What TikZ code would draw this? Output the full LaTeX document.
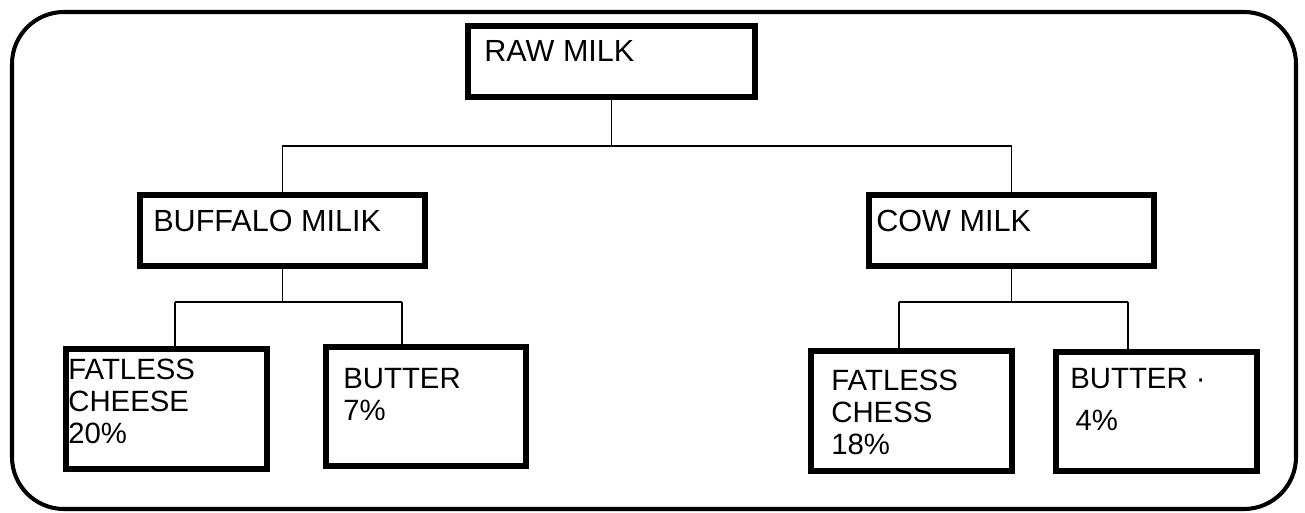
\documentclass[tikz,border=0pt]{standalone}
\usepackage{fontspec}
\setmainfont{Liberation Sans}
\tikzset{
  box/.style={draw, line width=3.4pt, rectangle, inner sep=0pt},
  lbl/.style={anchor=base west, inner sep=0pt, align=left, font=\fontsize{16.7}{18.2}\selectfont},
  lblbig/.style={lbl, font=\fontsize{17.4}{20}\selectfont},
  conn/.style={line width=0.85pt},
  outerframe/.style={line width=2.3pt, rounded corners=1.04cm}
}
\begin{document}
\begin{tikzpicture}[x=0.02cm,y=-0.02cm]
\useasboundingbox (0,0) rectangle (1305,513);
\draw[outerframe] (12,12) rectangle (1296,509);

% boxes
\node[box, minimum width=287*0.02cm, minimum height=71*0.02cm] (raw) at (611.5,61.5) {};
\node[box, minimum width=285*0.02cm, minimum height=71*0.02cm] (buf) at (282.5,230.5) {};
\node[box, minimum width=285*0.02cm, minimum height=71*0.02cm] (cow) at (1011.5,230.5) {};
\node[box, minimum width=201*0.02cm, minimum height=120*0.02cm] (fc) at (166.5,409) {};
\node[box, minimum width=200*0.02cm, minimum height=119*0.02cm] (b7) at (426,406.5) {};
\node[box, minimum width=201*0.02cm, minimum height=120*0.02cm] (fch) at (911.5,411) {};
\node[box, minimum width=201*0.02cm, minimum height=119*0.02cm] (b4) at (1156.5,411.5) {};

% labels (anchor at baseline of last line)
\node[lblbig] (rawt) at (484,62) {RAW MILK};
\node[lblbig] (buft) at (153,232) {BUFFALO MILIK};
\node[lblbig] (cowt) at (876,232) {COW MILK};
\node[lbl] (fct) at (68,443) {FATLESS\\CHEESE\\20\%};
\node[lbl] (b7t) at (343,420) {BUTTER\\7\%};
\node[lbl] (fcht) at (831,454) {FATLESS\\CHESS\\18\%};
\node[lbl] (b4t) at (1070,430) {BUTTER ·\\[5.5pt]\hspace*{3pt}4\%};

% connectors
\coordinate (tj) at (0,146);
\coordinate (bj) at (0,302);
\coordinate (bjl) at (175,302);
\coordinate (bjr) at (402,302);
\coordinate (cjl) at (899,302);
\coordinate (cjr) at (1128,302);

\draw[conn] (raw.south) -- (raw.south |- tj);
\draw[conn] (buf.north) -- (buf.north |- tj) -- (cow.north |- tj) -- (cow.north);
\draw[conn] (buf.south) -- (buf.south |- bj);
\draw[conn] (bjl) -- (bjr);
\draw[conn] (bjl) -- (bjl |- fc.north);
\draw[conn] (bjr) -- (bjr |- b7.north);
\draw[conn] (cow.south) -- (cow.south |- bj);
\draw[conn] (cjl) -- (cjr);
\draw[conn] (cjl) -- (cjl |- fch.north);
\draw[conn] (cjr) -- (cjr |- b4.north);
\end{tikzpicture}
\end{document}
